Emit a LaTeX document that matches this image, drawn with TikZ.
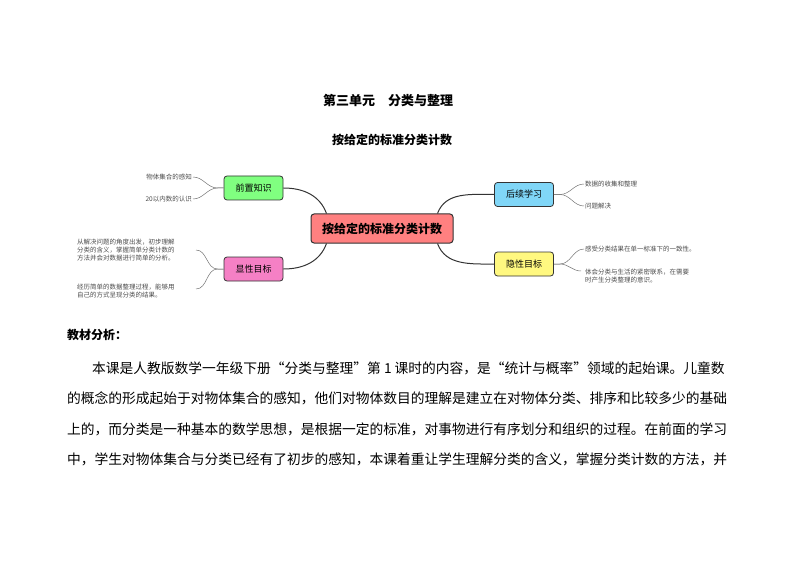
\documentclass[tikz,border=0pt]{standalone}
\usepackage{fontspec}
\setmainfont{Noto Sans CJK SC}
\usetikzlibrary{calc}
\begin{document}
\begin{tikzpicture}[x=1pt,y=-1pt,
  branch/.style={draw=black!80,line width=0.8pt,rounded corners=3pt,minimum width=59pt,minimum height=24pt,font=\fontsize{9}{10}\selectfont,inner sep=1pt},
  leaf/.style={font=\fontsize{6.5}{8}\selectfont,text=black!70,inner sep=1pt,align=left},
  main/.style={draw=black!80,line width=1pt},
  sub/.style={draw=black!55,line width=0.5pt},
  body/.style={anchor=west,inner sep=0pt,font=\fontsize{13.75}{14}\selectfont}]
\useasboundingbox (0,0) rectangle (794,561);
\node[font=\fontsize{13}{14}\selectfont\bfseries] (t1) at (388,101) {第三单元\quad 分类与整理};
\node[font=\fontsize{12}{14}\selectfont\bfseries] (t2) at (392,140) {按给定的标准分类计数};
\node[draw=black!80,line width=1pt,fill=red!50,rounded corners=3pt,minimum width=142pt,minimum height=29pt,font=\fontsize{12}{14}\selectfont\bfseries] (c) at (382,228.5) {按给定的标准分类计数};
\node[branch,fill=green!50] (pq) at (253.5,188) {前置知识};
\node[branch,fill=magenta!50] (xx) at (253.5,269) {显性目标};
\node[branch,fill=cyan!50] (hx) at (524,194.5) {后续学习};
\node[branch,fill=yellow!50] (yx) at (524,264) {隐性目标};
\coordinate (c1) at ($(c.north west)+(16,0)$);
\coordinate (c2) at ($(c.south west)+(16,0)$);
\coordinate (c3) at ($(c.north east)+(-16,0)$);
\coordinate (c4) at ($(c.south east)+(-16,0)$);
\draw[main] (pq.east) to[out=0,in=110] (c1);
\draw[main] (xx.east) to[out=0,in=-110] (c2);
\draw[main] (hx.west) to[out=180,in=70] (c3);
\draw[main] (yx.west) to[out=180,in=-70] (c4);
% left leaves
\node[leaf,anchor=east] (l1) at (193,177) {物体集合的感知};
\node[leaf,anchor=east] (l2) at (193,199) {20以内数的认识};
\node[leaf,anchor=west] (l3) at (76,250) {从解决问题的角度出发，初步理解\\分类的含义，掌握简单分类计数的\\方法并会对数据进行简单的分析。};
\node[leaf,anchor=west] (l4) at (76,291) {经历简单的数据整理过程，能够用\\自己的方式呈现分类的结果。};
\coordinate (r3) at (196,250);
\coordinate (r4) at (196,289);
\draw[sub] (pq.west) -- +(-6,0) to[out=180,in=0] (l1.east);
\draw[sub] (pq.west) -- +(-6,0) to[out=180,in=0] (l2.east);
\draw[sub] (xx.west) -- +(-6,0) to[out=180,in=0] (r3);
\draw[sub] (xx.west) -- +(-6,0) to[out=180,in=0] (r4);
% right leaves
\node[leaf,anchor=west] (r1) at (584,184) {数据的收集和整理};
\node[leaf,anchor=west] (r2) at (584,206) {问题解决};
\node[leaf,anchor=west] (r5) at (584,249) {感受分类结果在单一标准下的一致性。};
\node[leaf,anchor=west] (r6) at (584,276.5) {体会分类与生活的紧密联系，在需要\\时产生分类整理的意识。};
\coordinate (q6) at (581,271);
\draw[sub] (hx.east) -- +(6,0) to[out=0,in=180] (r1.west);
\draw[sub] (hx.east) -- +(6,0) to[out=0,in=180] (r2.west);
\draw[sub] (yx.east) -- +(6,0) to[out=0,in=180] (r5.west);
\draw[sub] (yx.east) -- +(6,0) to[out=0,in=180] (q6);
% text
\node[anchor=west,inner sep=0pt,font=\fontsize{12}{14}\selectfont\bfseries] (h) at (67,335) {教材分析：};
\node[body] (p1) at (92,368) {本课是人教版数学一年级下册“分类与整理”第 1 课时的内容，是“统计与概率”领域的起始课。儿童数};
\node[body] (p2) at (67,398.5) {的概念的形成起始于对物体集合的感知，他们对物体数目的理解是建立在对物体分类、排序和比较多少的基础};
\node[body] (p3) at (67,429) {上的，而分类是一种基本的数学思想，是根据一定的标准，对事物进行有序划分和组织的过程。在前面的学习};
\node[body] (p4) at (67,459.5) {中，学生对物体集合与分类已经有了初步的感知，本课着重让学生理解分类的含义，掌握分类计数的方法，并};
\end{tikzpicture}
\end{document}
